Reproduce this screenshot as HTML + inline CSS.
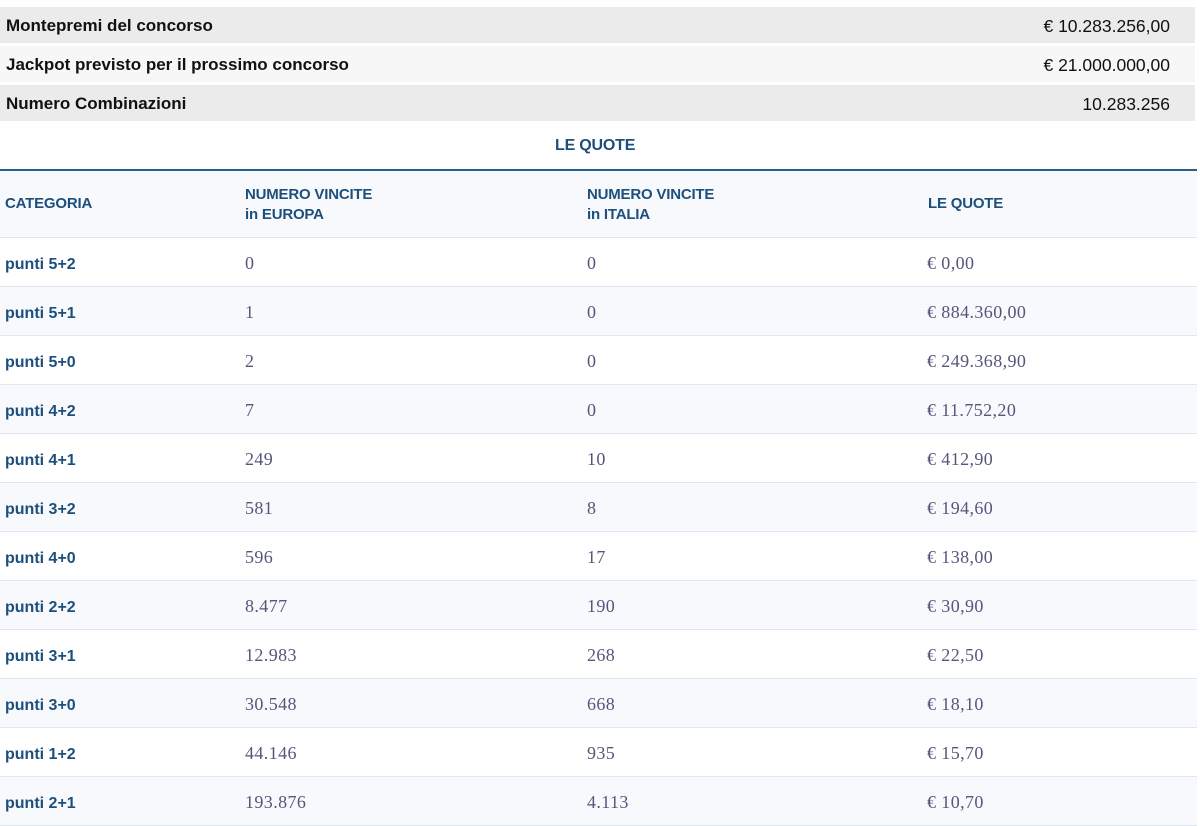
<!DOCTYPE html>
<html><head><meta charset="utf-8"><style>
body{margin:0;width:1200px;height:824px;overflow:hidden;background:#fff;position:relative;font-family:"Liberation Sans",sans-serif}
.t{position:absolute;left:0;width:1195px;height:36px}
.t b{position:absolute;left:6px;top:9px;font-size:17px;color:#111}
.t span{position:absolute;right:25px;top:9px;font-size:17.5px;color:#111}
.h{position:absolute;color:#1d4f7c;font-weight:bold;font-size:15px;line-height:20px;letter-spacing:-0.2px}
.r{position:absolute;left:0;width:1197px;height:49px;box-sizing:border-box;border-bottom:1.5px solid #dde8f2}
.r div{position:absolute;top:15px;font-size:18px;letter-spacing:0.4px}
.r .c0{left:5px;top:18px;color:#1d4f7c;font-weight:bold;font-family:"Liberation Sans",sans-serif;font-size:16px;letter-spacing:0}
.c1{left:245px}.c2{left:587px}.c3{left:927px}
.c1,.c2,.c3{font-family:"Liberation Serif",serif;color:#55577a}
</style></head><body>
<div class="t" style="top:7px;background:#ebebeb"><b>Montepremi del concorso</b><span>€ 10.283.256,00</span></div>
<div class="t" style="top:46px;background:#f7f7f7"><b>Jackpot previsto per il prossimo concorso</b><span>€ 21.000.000,00</span></div>
<div class="t" style="top:85px;background:#ebebeb"><b>Numero Combinazioni</b><span>10.283.256</span></div>
<div class="h" style="left:555px;top:136px;font-size:16px">LE QUOTE</div>
<div style="position:absolute;left:0;top:169px;width:1197px;height:2px;background:#2b5f8a"></div>
<div style="position:absolute;left:0;top:171px;width:1197px;height:67px;box-sizing:border-box;background:#f7f9fd;border-bottom:1.5px solid #dde8f2"></div>
<div class="h" style="left:5px;top:194px">CATEGORIA</div>
<div class="h" style="left:245px;top:185px">NUMERO VINCITE<br>in EUROPA</div>
<div class="h" style="left:587px;top:185px">NUMERO VINCITE<br>in ITALIA</div>
<div class="h" style="left:928px;top:194px">LE QUOTE</div>
<div class="r" style="top:238px;background:#fff"><div class="c0">punti 5+2</div><div class="c1">0</div><div class="c2">0</div><div class="c3">€ 0,00</div></div>
<div class="r" style="top:287px;background:#f7f9fd"><div class="c0">punti 5+1</div><div class="c1">1</div><div class="c2">0</div><div class="c3">€ 884.360,00</div></div>
<div class="r" style="top:336px;background:#fff"><div class="c0">punti 5+0</div><div class="c1">2</div><div class="c2">0</div><div class="c3">€ 249.368,90</div></div>
<div class="r" style="top:385px;background:#f7f9fd"><div class="c0">punti 4+2</div><div class="c1">7</div><div class="c2">0</div><div class="c3">€ 11.752,20</div></div>
<div class="r" style="top:434px;background:#fff"><div class="c0">punti 4+1</div><div class="c1">249</div><div class="c2">10</div><div class="c3">€ 412,90</div></div>
<div class="r" style="top:483px;background:#f7f9fd"><div class="c0">punti 3+2</div><div class="c1">581</div><div class="c2">8</div><div class="c3">€ 194,60</div></div>
<div class="r" style="top:532px;background:#fff"><div class="c0">punti 4+0</div><div class="c1">596</div><div class="c2">17</div><div class="c3">€ 138,00</div></div>
<div class="r" style="top:581px;background:#f7f9fd"><div class="c0">punti 2+2</div><div class="c1">8.477</div><div class="c2">190</div><div class="c3">€ 30,90</div></div>
<div class="r" style="top:630px;background:#fff"><div class="c0">punti 3+1</div><div class="c1">12.983</div><div class="c2">268</div><div class="c3">€ 22,50</div></div>
<div class="r" style="top:679px;background:#f7f9fd"><div class="c0">punti 3+0</div><div class="c1">30.548</div><div class="c2">668</div><div class="c3">€ 18,10</div></div>
<div class="r" style="top:728px;background:#fff"><div class="c0">punti 1+2</div><div class="c1">44.146</div><div class="c2">935</div><div class="c3">€ 15,70</div></div>
<div class="r" style="top:777px;background:#f7f9fd"><div class="c0">punti 2+1</div><div class="c1">193.876</div><div class="c2">4.113</div><div class="c3">€ 10,70</div></div>
</body></html>
